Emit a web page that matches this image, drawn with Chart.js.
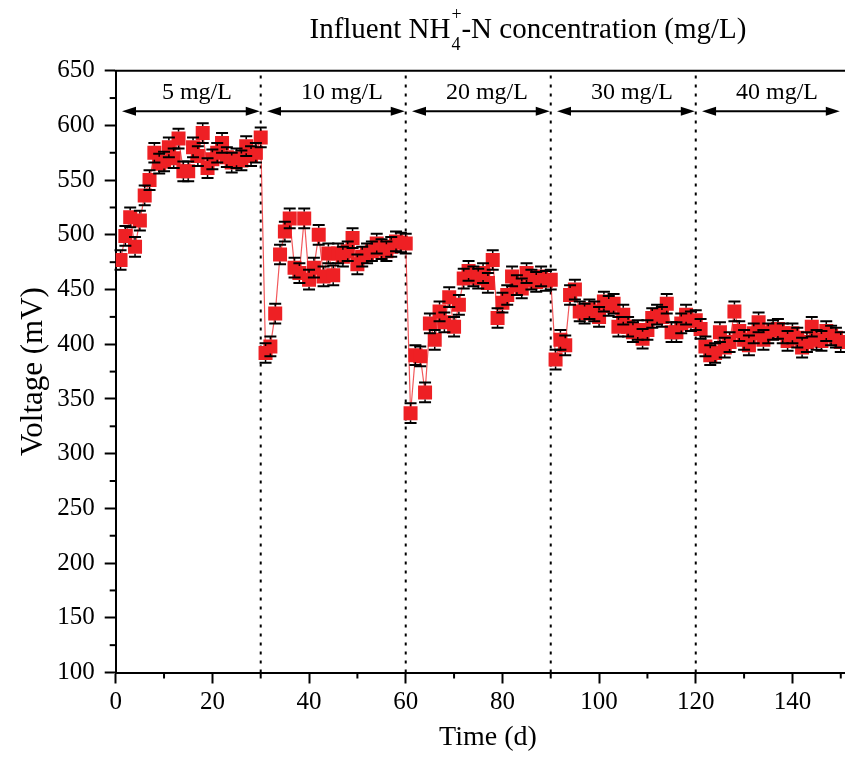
<!DOCTYPE html>
<html>
<head>
<meta charset="utf-8">
<script src="https://cdn.jsdelivr.net/npm/chart.js@4.4.1/dist/chart.umd.min.js"></script>
<style>
html,body{margin:0;padding:0;background:#fff;overflow:hidden;width:845px;height:760px;}
#wrap{position:relative;width:870px;height:760px;}
#chart{position:absolute;left:0;top:0;}
#title{position:absolute;left:228px;width:600px;top:14px;text-align:center;font-family:"Liberation Serif","Times New Roman",serif;font-size:29px;line-height:29px;color:#000;white-space:nowrap;}
.stack{display:inline-block;position:relative;width:11px;height:20px;}
.stack .sup{position:absolute;left:1px;top:-13px;font-size:18px;line-height:18px;}
.stack .sub{position:absolute;left:1px;top:17px;font-size:18px;line-height:18px;}
</style>
</head>
<body>
<div id="wrap">
<canvas id="chart" width="870" height="760"></canvas>
<div id="title">Influent NH<span class="stack"><span class="sup">+</span><span class="sub">4</span></span>-N concentration (mg/L)</div>
</div>
<script>
// ---- data ----
const days = [
  1,2,3,4,5,6,7,8,9,10,11,12,13,14,15,16,17,18,19,20,21,22,23,24,25,26,27,28,29,30,
  31,32,33,34,35,36,37,38,39,40,41,42,43,44,45,46,47,48,49,50,51,52,53,54,55,56,57,58,59,60,
  61,62,63,64,65,66,67,68,69,70,71,72,73,74,75,76,77,78,79,80,81,82,83,84,85,86,87,88,89,90,
  91,92,93,94,95,96,97,98,99,100,101,102,103,104,105,106,107,108,109,110,111,112,113,114,115,116,117,118,119,120,
  121,122,123,124,125,126,127,128,129,130,131,132,133,134,135,136,137,138,139,140,141,142,143,144,145,146,147,148,149,150
];
const voltage = [
  477,499,516,489,513,536,550,575,565,567,
  580,570,588,558,558,580,572,593,561,569,
  575,584,571,566,570,568,581,572,575,589,
  392,398,428,482,503,515,470,465,515,459,
  470,500,462,483,463,483,480,485,497,473,
  480,483,485,492,487,485,489,494,493,492,
  337,390,389,356,419,404,430,420,443,416,
  436,460,467,462,460,465,456,477,424,438,
  445,462,454,451,465,459,457,462,458,459,
  386,404,399,445,450,430,428,432,430,425,
  439,435,437,416,427,416,411,413,405,413,
  424,427,425,437,411,411,419,427,421,422,
  414,398,390,392,411,397,402,430,412,404,
  399,410,420,404,410,413,414,410,403,410,
  406,397,402,416,404,403,412,408,406,402
];
const errorMargin = 9;            // mV, error bar half-length
const phaseStarts = [0, 30, 60, 90, 120];
const phaseEnds = [30, 60, 90, 120, 150];
const phaseBoundaries = [30, 60, 90, 120];
const phaseLabels = ['5 mg/L', '10 mg/L', '20 mg/L', '30 mg/L', '40 mg/L'];
const arrowLevel = 613;           // mV
const labelLevel = 624;           // mV
const xMinorTicks = [10, 30, 50, 70, 90, 110, 130, 150];
const yMinorTicks = [125, 175, 225, 275, 325, 375, 425, 475, 525, 575, 625];

const points = days.map((d, i) => ({x: d, y: voltage[i]}));
const SERIF = '"Liberation Serif", "Times New Roman", serif';
const MARKER_HALF = 7;

const overlay = {
  id: 'overlay',
  beforeDatasetsDraw(chart) {
    const {ctx, chartArea: a, scales: {x}} = chart;
    ctx.save();
    ctx.strokeStyle = '#000';
    ctx.lineWidth = 2;
    ctx.setLineDash([3, 6]);
    phaseBoundaries.forEach(b => {
      const px = x.getPixelForValue(b);
      ctx.beginPath();
      ctx.moveTo(px, a.bottom);
      ctx.lineTo(px, a.top);
      ctx.stroke();
    });
    ctx.setLineDash([]);
    const ay = chart.scales.y.getPixelForValue(arrowLevel);
    phaseStarts.forEach((s, i) => {
      const x1 = x.getPixelForValue(s + 1.3);
      const x2 = x.getPixelForValue(phaseEnds[i] - 0.2);
      ctx.lineWidth = 2;
      ctx.beginPath();
      ctx.moveTo(x1 + 6, ay);
      ctx.lineTo(x2 - 6, ay);
      ctx.stroke();
      ctx.fillStyle = '#000';
      ctx.beginPath();
      ctx.moveTo(x1, ay); ctx.lineTo(x1 + 14, ay - 4.5); ctx.lineTo(x1 + 14, ay + 4.5); ctx.closePath();
      ctx.fill();
      ctx.beginPath();
      ctx.moveTo(x2, ay); ctx.lineTo(x2 - 14, ay - 4.5); ctx.lineTo(x2 - 14, ay + 4.5); ctx.closePath();
      ctx.fill();
    });
    const ly = chart.scales.y.getPixelForValue(labelLevel);
    ctx.font = '24px ' + SERIF;
    ctx.textAlign = 'center';
    ctx.textBaseline = 'alphabetic';
    ctx.fillStyle = '#000';
    phaseStarts.forEach((s, i) => {
      ctx.fillText(phaseLabels[i], x.getPixelForValue(s + 16.8), ly);
    });
    ctx.restore();
  },
  afterDatasetsDraw(chart) {
    const {ctx, scales: {x, y}} = chart;
    ctx.save();
    ctx.strokeStyle = '#000';
    points.forEach(p => {
      const px = x.getPixelForValue(p.x);
      const py = y.getPixelForValue(p.y);
      const top = y.getPixelForValue(p.y + errorMargin);
      const bot = y.getPixelForValue(p.y - errorMargin);
      ctx.lineWidth = 1.5;
      ctx.beginPath();
      ctx.moveTo(px, top); ctx.lineTo(px, py - MARKER_HALF);
      ctx.moveTo(px, py + MARKER_HALF); ctx.lineTo(px, bot);
      ctx.stroke();
      ctx.lineWidth = 2;
      ctx.beginPath();
      ctx.moveTo(px - 6, top); ctx.lineTo(px + 6, top);
      ctx.moveTo(px - 6, bot); ctx.lineTo(px + 6, bot);
      ctx.stroke();
    });
    ctx.restore();
  },
  afterDraw(chart) {
    const {ctx, chartArea: a, scales: {x, y}} = chart;
    ctx.save();
    ctx.strokeStyle = '#000';
    ctx.lineWidth = 2;
    ctx.beginPath();
    ctx.moveTo(a.left - 1, a.top);
    ctx.lineTo(a.right, a.top);
    ctx.moveTo(a.right, a.top);
    ctx.lineTo(a.right, a.bottom);
    ctx.stroke();
    xMinorTicks.forEach(v => {
      const px = x.getPixelForValue(v);
      ctx.beginPath(); ctx.moveTo(px, a.bottom); ctx.lineTo(px, a.bottom + 6); ctx.stroke();
    });
    yMinorTicks.forEach(v => {
      const py = y.getPixelForValue(v);
      ctx.beginPath(); ctx.moveTo(a.left, py); ctx.lineTo(a.left - 6, py); ctx.stroke();
    });
    ctx.restore();
  }
};

new Chart(document.getElementById('chart'), {
  type: 'line',
  data: {
    datasets: [{
      data: points,
      borderColor: 'rgba(238,32,36,0.75)',
      borderWidth: 1.2,
      tension: 0,
      pointStyle: 'rect',
      pointRadius: 9.9,
      pointHoverRadius: 9.9,
      pointBackgroundColor: '#ee2024',
      pointBorderColor: '#ee2024',
      pointBorderWidth: 0
    }]
  },
  options: {
    responsive: false,
    animation: false,
    events: [],
    layout: {padding: {top: 70.7, right: 6, left: 0, bottom: 0}},
    plugins: {legend: {display: false}, tooltip: {enabled: false}},
    scales: {
      x: {
        type: 'linear', min: 0, max: 154,
        afterFit(s) { s.height = 87.5; },
        border: {color: '#000', width: 2},
        grid: {drawOnChartArea: false, drawTicks: true, tickLength: 11, tickWidth: 2, tickColor: '#000'},
        ticks: {stepSize: 20, includeBounds: false, color: '#000', font: {family: SERIF, size: 25}, padding: 4, maxRotation: 0, autoSkip: false},
        title: {display: true, text: 'Time (d)', color: '#000', font: {family: SERIF, size: 28}, padding: {top: 0, bottom: 6}}
      },
      y: {
        type: 'linear', min: 100, max: 650,
        afterFit(s) { s.width = 115.7; },
        border: {color: '#000', width: 2},
        grid: {drawOnChartArea: false, drawTicks: true, tickLength: 11, tickWidth: 2, tickColor: '#000'},
        ticks: {stepSize: 50, color: '#000', font: {family: SERIF, size: 25}, padding: 10, autoSkip: false},
        title: {display: true, text: 'Voltage (mV)', color: '#000', font: {family: SERIF, size: 31}, padding: {top: 15, bottom: 0}}
      }
    }
  },
  plugins: [overlay]
});
</script>
</body>
</html>
